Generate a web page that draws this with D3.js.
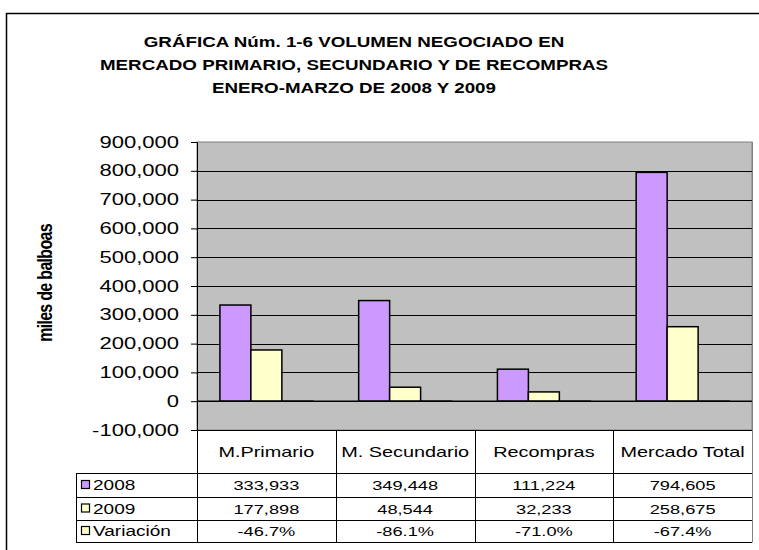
<!DOCTYPE html>
<html>
<head>
<meta charset="utf-8">
<script src="https://cdn.jsdelivr.net/npm/d3@7"></script>
<style>
  body { margin: 0; background: #fff; }
  text { font-family: "Liberation Sans", Arial, sans-serif; fill: #000; }
</style>
</head>
<body>
<div id="chart-area"></div>
<script>
// data
var categories = ["M.Primario", "M. Secundario", "Recompras", "Mercado Total"];
var seriesNames = ["2008", "2009", "Variación"];
var values2008 = [333933, 349448, 111224, 794605];
var values2009 = [177898, 48544, 32233, 258675];
var variacion = [-46.7, -86.1, -71.0, -67.4];   // percent
var yTickValues = [-100000, 0, 100000, 200000, 300000, 400000, 500000, 600000, 700000, 800000, 900000];
var titleLines = ["GRÁFICA Núm. 1-6 VOLUMEN NEGOCIADO EN",
                  "MERCADO PRIMARIO, SECUNDARIO Y DE RECOMPRAS",
                  "ENERO-MARZO DE 2008 Y 2009"];
var colors = ["#CC99FF", "#FFFFCC", "#FFFFCC"];

var W = 759, H = 550;
var plot = { left: 197, right: 752, top: 142, bottom: 430 };
var rowY = [430, 473, 497, 520, 542];   // table row boundaries
var legendLeft = 76;
var sx = 1.36;   // the original text is stretched sideways

var locale = d3.formatLocale({ decimal: ".", thousands: ",", grouping: [3], currency: ["", ""], minus: "-" });
var fmtNum = locale.format(",");
var fmtPct = locale.format(".1f");

var svg = d3.select("#chart-area")
  .append("svg")
    .attr("width", W)
    .attr("height", H);

// wide text helper
function wideText(parent, x, y, str, size, anchor, weight) {
  return parent.append("text")
    .attr("transform", "translate(" + x + "," + y + ") scale(" + sx + ",1)")
    .attr("text-anchor", anchor || "middle")
    .attr("font-size", size + "px")
    .attr("font-weight", weight || "normal")
    .text(str);
}

// outer frame (runs off the right and bottom)
svg.append("rect")
  .attr("x", 6.5).attr("y", 13.5)
  .attr("width", 900).attr("height", 700)
  .attr("fill", "none").attr("stroke", "#000").attr("stroke-width", 1.5);

// title
titleLines.forEach(function(t, i) {
  wideText(svg, 354, 47 + i * 23, t, 13.8, "middle", "bold");
});

// scales
var y = d3.scaleLinear()
  .domain([-100000, 900000])
  .range([plot.bottom, plot.top]);

var x = d3.scaleBand()
  .domain(categories)
  .range([plot.left, plot.right]);

var xs = d3.scaleBand()
  .domain(seriesNames)
  .range([0, x.bandwidth()])
  .paddingInner(0)
  .paddingOuter(0.74);

// plot background
svg.append("rect")
  .attr("x", plot.left).attr("y", plot.top)
  .attr("width", plot.right - plot.left)
  .attr("height", plot.bottom - plot.top)
  .attr("fill", "#C0C0C0")
  .attr("stroke", "#808080");

// gridlines
svg.append("g")
  .selectAll("line")
  .data(yTickValues.filter(function(d) { return d > -100000 && d < 900000; }))
  .enter().append("line")
    .attr("x1", plot.left).attr("x2", plot.right)
    .attr("y1", function(d) { return Math.round(y(d)) + 0.5; })
    .attr("y2", function(d) { return Math.round(y(d)) + 0.5; })
    .attr("stroke", "#000");

// y axis
var yAxis = svg.append("g")
  .attr("transform", "translate(" + plot.left + ",0)")
  .call(d3.axisLeft(y)
    .tickValues(yTickValues)
    .tickSize(6)
    .tickPadding(12)
    .tickFormat(fmtNum));
yAxis.select(".domain").attr("stroke", "#000");
yAxis.selectAll("line").attr("stroke", "#000");
yAxis.selectAll("text")
  .attr("font-size", "16.2px")
  .attr("font-family", "Liberation Sans, Arial, sans-serif")
  .attr("fill", "#000")
  .attr("x", function() { return +d3.select(this).attr("x") / sx; })
  .attr("transform", "scale(" + sx + ",1)");

svg.append("text")
  .attr("transform", "translate(52,283) rotate(-90) scale(1,1.3)")
  .attr("text-anchor", "middle")
  .attr("font-size", "16px")
  .attr("font-weight", "bold")
  .attr("letter-spacing", "-0.7px")
  .text("miles de balboas");

// bars
var series = [values2008, values2009, variacion.map(function(v) { return v / 100; })];
var barGroups = svg.append("g")
  .selectAll("g")
  .data(categories)
  .enter().append("g")
    .attr("transform", function(d) { return "translate(" + x(d) + ",0)"; });

barGroups.selectAll("rect")
  .data(function(d, i) {
    return seriesNames.map(function(s, j) { return { name: s, value: series[j][i], color: colors[j] }; });
  })
  .enter().append("rect")
    .attr("x", function(d) { return xs(d.name); })
    .attr("y", function(d) { return y(Math.max(0, d.value)); })
    .attr("width", xs.bandwidth())
    .attr("height", function(d) { return Math.abs(y(d.value) - y(0)); })
    .attr("fill", function(d) { return d.color; })
    .attr("stroke", "#000")
    .attr("stroke-width", 1.5);

// category axis at zero
svg.append("line")
  .attr("x1", plot.left).attr("x2", plot.right)
  .attr("y1", y(0)).attr("y2", y(0))
  .attr("stroke", "#000").attr("stroke-width", 1.2);

// data table
var table = svg.append("g").attr("stroke", "#000").attr("stroke-width", 1);
table.append("line")
  .attr("x1", plot.left).attr("x2", plot.right)
  .attr("y1", rowY[0] + 0.5).attr("y2", rowY[0] + 0.5);
rowY.slice(1).forEach(function(ry) {
  table.append("line")
    .attr("x1", legendLeft).attr("x2", plot.right)
    .attr("y1", ry + 0.5).attr("y2", ry + 0.5);
});
table.append("line")
  .attr("x1", legendLeft + 0.5).attr("x2", legendLeft + 0.5)
  .attr("y1", rowY[1]).attr("y2", rowY[4]);
categories.forEach(function(c) {
  table.append("line")
    .attr("x1", Math.round(x(c)) + 0.5).attr("x2", Math.round(x(c)) + 0.5)
    .attr("y1", rowY[0]).attr("y2", rowY[4] + 0.5);
});
table.append("line")
  .attr("x1", plot.right + 0.5).attr("x2", plot.right + 0.5)
  .attr("y1", plot.top).attr("y2", rowY[4] + 0.5)
  .attr("stroke", "#808080");

// header labels
categories.forEach(function(c) {
  wideText(svg, x(c) + x.bandwidth() / 2, (rowY[0] + rowY[1]) / 2 + 5, c, 14.6);
});

// rows
var rows = [
  values2008.map(fmtNum),
  values2009.map(fmtNum),
  variacion.map(function(v) { return fmtPct(v) + "%"; })
];
rows.forEach(function(row, r) {
  var cy = (rowY[r + 1] + rowY[r + 2]) / 2;
  row.forEach(function(v, i) {
    wideText(svg, x(categories[i]) + x.bandwidth() / 2, cy + 5, v, 13.4);
  });

  // legend key
  svg.append("rect")
    .attr("x", legendLeft + 5.5).attr("y", cy - 4.5)
    .attr("width", 8).attr("height", 8)
    .attr("fill", colors[r])
    .attr("stroke", "#000").attr("stroke-width", 1.2);
  wideText(svg, legendLeft + 17, cy + 5, seriesNames[r], 14, "start");
});
</script>
</body>
</html>
